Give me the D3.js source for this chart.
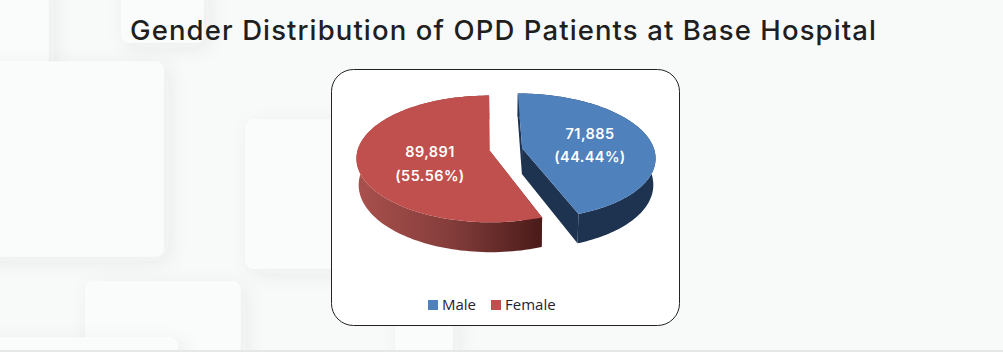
<!DOCTYPE html>
<html><head><meta charset="utf-8">
<script src="https://cdn.jsdelivr.net/npm/d3@7/dist/d3.min.js"></script>
<style>html,body{margin:0;padding:0;background:#f8fafa;overflow:hidden}svg{display:block}</style>
</head><body><div id="c"></div>
<script>
const titleText = "Gender Distribution of OPD Patients at Base Hospital";
const categories = ["Male", "Female"];
const values = [71885, 89891];
const percents = ["44.44%", "55.56%"];
const colors = ["#4f81bd", "#c0504d"];

const W = 1003, H = 352;
const svg = d3.select("#c").append("svg").attr("width", W).attr("height", H);
const defs = svg.append("defs");

const shadow = defs.append("filter").attr("id", "soft").attr("x", "-40%").attr("y", "-40%").attr("width", "180%").attr("height", "180%");
shadow.append("feDropShadow").attr("dx", 5).attr("dy", 5).attr("stdDeviation", 10).attr("flood-color", "#334").attr("flood-opacity", 0.07);

const bgRects = [[-20,-20,68,141],[-20,62,183,194],[246,120,120,148],[86,282,154,90],[-20,338,197,40],[122,-20,81,62],[396,300,56,70]];
svg.append("g").selectAll("rect").data(bgRects).join("rect")
  .attr("x", d => d[0]).attr("y", d => d[1]).attr("width", d => d[2]).attr("height", d => d[3])
  .attr("rx", 7).attr("fill", "#fafbfb").attr("stroke", "#fdfdfd").attr("filter", "url(#soft)");

svg.append("rect").attr("x", 0).attr("y", 350).attr("width", W).attr("height", 2).attr("fill", "#e6e8e8");

svg.append("text").attr("x", 503).attr("y", 40).attr("text-anchor", "middle")
  .attr("font-family", "Inter").attr("font-weight", 500).attr("font-size", 27.5)
  .attr("textLength", 746).attr("lengthAdjust", "spacing").attr("fill", "#1f1f1f").text(titleText);

svg.append("rect").attr("x", 331.5).attr("y", 69.5).attr("width", 348).attr("height", 256).attr("rx", 22)
  .attr("fill", "#fff").attr("stroke", "#222").attr("stroke-width", 1);

// Pie geometry: a tilted circle in perspective, with a slight shear from the view angle
const xc = 506, yc = 149.5, R = 132, B = 62, persp = 0.127, depth = 26, explode = 0.125, shear = 0.046;
const pie = d3.pie().sort(null).value(d => d)(values);
const project = (u, v, low) => {
  const f = 1 / (1 - persp * v);
  const s = low ? 0.985 : 1;
  const dy = B * v * f;
  return [xc + (R * u * f + shear * dy) * s, yc + dy + (low ? depth * f : 0)];
};
const line = d3.line();

const gradF = defs.append("linearGradient").attr("id", "sideF").attr("gradientUnits", "userSpaceOnUse")
  .attr("x1", 358).attr("x2", 542).attr("y1", 0).attr("y2", 0);
gradF.append("stop").attr("offset", 0).attr("stop-color", "#a9504d");
gradF.append("stop").attr("offset", 0.5).attr("stop-color", "#843d3b");
gradF.append("stop").attr("offset", 1).attr("stop-color", "#4a1b19");
const sideFills = ["#1d3350", "url(#sideF)"];

const slices = svg.append("g");
pie.forEach((p, i) => {
  const mid = (p.startAngle + p.endAngle) / 2;
  const ex = explode * Math.sin(mid), ey = -explode * Math.cos(mid);
  const rim = d3.range(0, 121).map(k => p.startAngle + (p.endAngle - p.startAngle) * k / 120);
  const pt = (a, low) => project(ex + Math.sin(a), ey - Math.cos(a), low);
  const apex = low => project(ex, ey, low);
  const g = slices.append("g");
  const topRim = rim.map(a => pt(a, false)), lowRim = rim.map(a => pt(a, true));
  g.append("path").attr("d", line(topRim.concat(lowRim.slice().reverse())) + "Z").attr("fill", sideFills[i]);
  [p.startAngle, p.endAngle].forEach(a => {
    g.append("path").attr("d", line([apex(false), pt(a, false), pt(a, true), apex(true)]) + "Z").attr("fill", sideFills[i]);
  });
  g.append("path").attr("d", line([apex(false), ...topRim]) + "Z").attr("fill", colors[i]);
});

const labelPos = [[590, 139, 162], [430, 157, 181]];
const labels = svg.append("g").attr("font-family", "Inter").attr("font-weight", 600).attr("font-size", 14.5)
  .attr("letter-spacing", 0.4).attr("fill", "#fff").attr("text-anchor", "middle");
values.forEach((v, i) => {
  labels.append("text").attr("x", labelPos[i][0]).attr("y", labelPos[i][1]).text(d3.format(",")(v));
  labels.append("text").attr("x", labelPos[i][0]).attr("y", labelPos[i][2]).text("(" + percents[i] + ")");
});

const legendX = [[428, 442], [491, 505]];
const legend = svg.append("g").attr("font-family", "'Open Sans'").attr("font-size", 15).attr("fill", "#1f2430");
categories.forEach((c, i) => {
  legend.append("rect").attr("x", legendX[i][0]).attr("y", 300).attr("width", 10).attr("height", 10).attr("fill", colors[i]);
  legend.append("text").attr("x", legendX[i][1]).attr("y", 310).text(c);
});
</script></body></html>
